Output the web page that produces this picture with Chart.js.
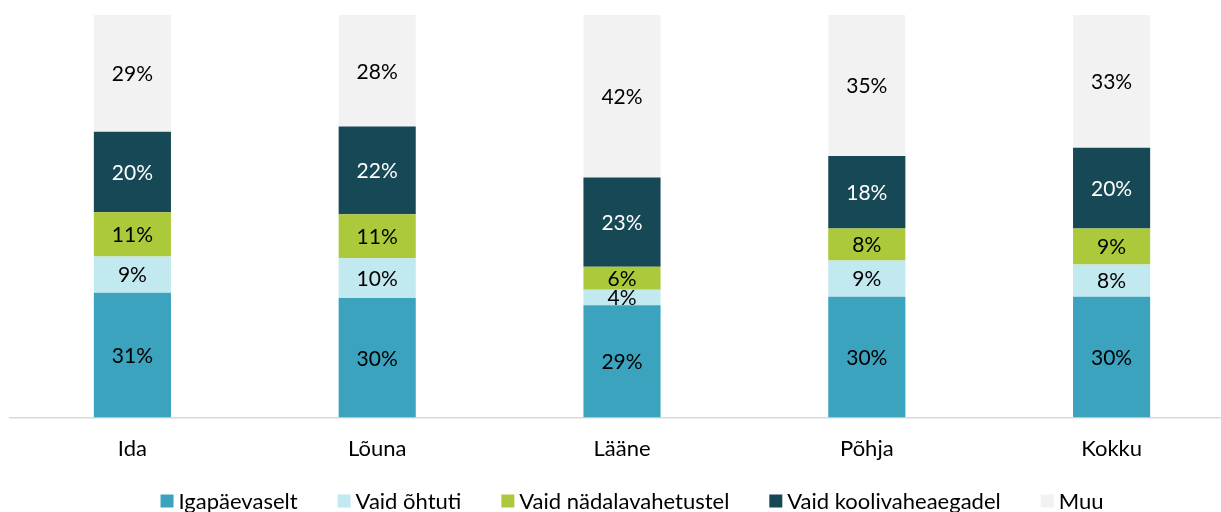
<!DOCTYPE html>
<html>
<head>
<meta charset="utf-8">
<script src="https://cdn.jsdelivr.net/npm/chart.js@4.4.1/dist/chart.umd.min.js"></script>
<style>
    html, body { margin: 0; padding: 0; background: #fff; overflow: hidden; }
    #wrap { position: relative; width: 1234px; height: 512px; }
</style>
</head>
<body>
<div id="wrap"><canvas id="myChart"></canvas></div>
<script>
// Data

var regions = ['Ida', 'Lõuna', 'Lääne', 'Põhja', 'Kokku']

var daily = [31, 30, 29, 30, 30]
var eveningsOnly = [9, 10, 4, 9, 8]
var weekendsOnly = [11, 11, 6, 8, 9]
var holidaysOnly = [20, 22, 23, 18, 20]
var other = [29, 28, 42, 35, 33]

var seriesNames = ['Igapäevaselt', 'Vaid õhtuti', 'Vaid nädalavahetustel', 'Vaid koolivaheaegadel', 'Muu']
var seriesValues = [daily, eveningsOnly, weekendsOnly, holidaysOnly, other]
var colors = ['#3ba3be', '#c2e8f0', '#acc93b', '#164856', '#f2f2f2']
var labelColors = ['#000', '#000', '#000', '#fff', '#000']

var fontFamily = 'Lato, "Open Sans", sans-serif'

// 100% stack: each region's shares are scaled to its own total
var totals = regions.map((r, i) => seriesValues.reduce((s, arr) => s + arr[i], 0))

var datasets = seriesNames.map((name, k) => ({
    label: name,
    data: seriesValues[k].map((v, i) => v / totals[i] * 100),
    raw: seriesValues[k],
    backgroundColor: colors[k],
    borderWidth: 0,
    barPercentage: 0.315,
    categoryPercentage: 1,
}))

// Percent labels in the middle of each segment
var segmentLabels = {
    id: 'segmentLabels',
    afterDatasetsDraw(chart) {
        var ctx = chart.ctx
        ctx.save()
        ctx.font = '21px ' + fontFamily
        ctx.textAlign = 'center'
        ctx.textBaseline = 'middle'
        chart.data.datasets.forEach((ds, k) => {
            chart.getDatasetMeta(k).data.forEach((bar, i) => {
                var p = bar.getProps(['x', 'y', 'base'], true)
                ctx.fillStyle = labelColors[k]
                ctx.fillText(ds.raw[i] + '%', p.x, (p.y + p.base) / 2 + 1)
            })
        })
        ctx.restore()
    }
}

// Legend row drawn by hand so the gaps between entries can be wide
var bottomLegend = {
    id: 'bottomLegend',
    afterDraw(chart) {
        var ctx = chart.ctx
        var box = 13, gap = 5, spacing = 40
        ctx.save()
        ctx.font = '22px ' + fontFamily
        ctx.textBaseline = 'middle'
        var widths = chart.data.datasets.map(ds => ctx.measureText(ds.label).width)
        var total = widths.reduce((s, w) => s + box + gap + w, 0) + spacing * (widths.length - 1)
        var x = (chart.chartArea.left + chart.chartArea.right) / 2 + 10 - total / 2
        var y = 501
        chart.data.datasets.forEach((ds, k) => {
            ctx.fillStyle = ds.backgroundColor
            ctx.fillRect(x, y - box / 2, box, box)
            ctx.fillStyle = '#000'
            ctx.fillText(ds.label, x + box + gap, y + 1)
            x += box + gap + widths[k] + spacing
        })
        ctx.restore()
    }
}

var ctx = document.getElementById('myChart').getContext('2d')

var myChart = new Chart(ctx, {
    type: 'bar',
    data: { labels: regions, datasets: datasets },
    options: {
        responsive: true,
        maintainAspectRatio: false,
        animation: false,
        layout: { padding: { top: 15, left: 10, right: 0, bottom: 32 } },
        scales: {
            x: {
                stacked: true,
                grid: { display: false, drawTicks: false },
                border: { color: '#d9d9d9', width: 1.5 },
                ticks: { color: '#000', padding: 18, font: { family: fontFamily, size: 22 } },
            },
            y: {
                stacked: true,
                display: false,
                min: 0,
                max: 100,
            }
        },
        plugins: {
            legend: { display: false },
            tooltip: { enabled: false },
        },
    },
    plugins: [segmentLabels, bottomLegend],
})
</script>
</body>
</html>
